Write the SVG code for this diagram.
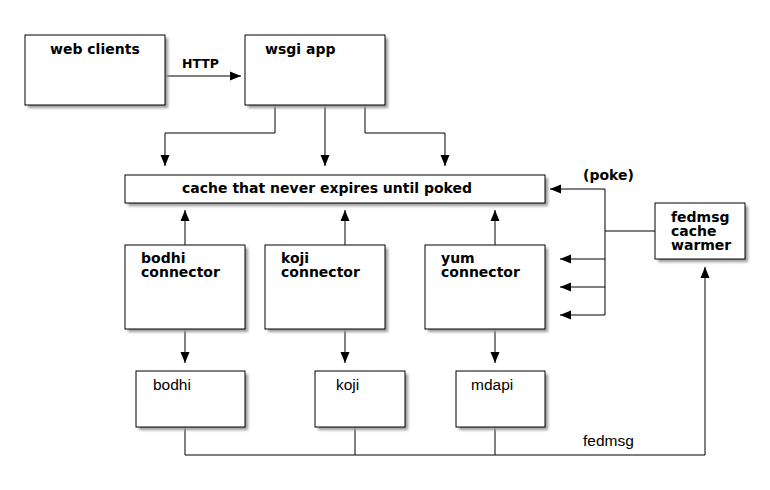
<svg xmlns="http://www.w3.org/2000/svg" width="770" height="490" viewBox="0 0 770 490">
<defs>
<marker id="ah" markerUnits="userSpaceOnUse" markerWidth="12" markerHeight="10" refX="11" refY="4.5" orient="auto" overflow="visible">
<path d="M0,0 L11,4.5 L0,9 z" fill="#000"/>
</marker>
<filter id="sh" x="-10%" y="-10%" width="130%" height="130%">
<feGaussianBlur stdDeviation="1.5"/>
</filter>
</defs>
<style>
.box{fill:#fff;stroke:#000;stroke-width:1}
.shadow{fill:#999;filter:url(#sh)}
.t{font-family:"DejaVu Sans",sans-serif;font-weight:bold;font-size:14px;fill:#000}
.b{font-family:"Liberation Sans",Arial,sans-serif;font-size:15.5px;fill:#000}
.lbl{font-family:"DejaVu Sans",sans-serif;font-weight:bold;font-size:12.5px;fill:#000}
.c{fill:none;stroke:#000;stroke-width:1}
.a{marker-end:url(#ah)}
</style>
<rect width="770" height="490" fill="#fff"/>

<g id="connectors">
<path class="c a" d="M165,76 H241"/>
<path class="c a" d="M275,105 V133 H165 V166"/>
<path class="c a" d="M325,105 V166"/>
<path class="c a" d="M365,105 V133 H445 V166"/>
<path class="c a" d="M185,245 V210"/>
<path class="c a" d="M345,245 V210"/>
<path class="c a" d="M495,245 V210"/>
<path class="c a" d="M185,329 V363"/>
<path class="c a" d="M345,329 V363"/>
<path class="c a" d="M495,329 V363"/>
<path class="c" d="M655,231 H605"/>
<path class="c a" d="M605,315 V189 H550"/>
<path class="c a" d="M605,259 H560"/>
<path class="c a" d="M605,287 H560"/>
<path class="c a" d="M605,315 H560"/>
<path class="c a" d="M185,427 V455 H705 V267"/>
<path class="c" d="M355,427 V455"/>
<path class="c" d="M495,427 V455"/>
<text class="lbl" x="182" y="68">HTTP</text>
<text class="t" x="583" y="180">(poke)</text>
<text class="b" x="583" y="446">fedmsg</text>
</g>

<g id="web-clients">
<rect class="shadow" x="28" y="38" width="140" height="70"/>
<rect class="box" x="25" y="35" width="140" height="70"/>
<text class="t" x="50" y="54">web clients</text>
</g>

<g id="wsgi-app">
<rect class="shadow" x="248" y="38" width="140" height="70"/>
<rect class="box" x="245" y="35" width="140" height="70"/>
<text class="t" x="265" y="54">wsgi app</text>
</g>

<g id="cache">
<rect class="shadow" x="128" y="178" width="420" height="28"/>
<rect class="box" x="125" y="175" width="420" height="28"/>
<text class="t" x="182" y="193">cache that never expires until poked</text>
</g>

<g id="fedmsg-cache-warmer">
<rect class="shadow" x="658" y="206" width="90" height="56"/>
<rect class="box" x="655" y="203" width="90" height="56"/>
<text class="t" x="671" y="222">fedmsg</text>
<text class="t" x="671" y="236">cache</text>
<text class="t" x="671" y="250">warmer</text>
</g>

<g id="bodhi-connector">
<rect class="shadow" x="128" y="248" width="120" height="84"/>
<rect class="box" x="125" y="245" width="120" height="84"/>
<text class="t" x="141" y="263">bodhi</text>
<text class="t" x="141" y="277">connector</text>
</g>

<g id="koji-connector">
<rect class="shadow" x="268" y="248" width="120" height="84"/>
<rect class="box" x="265" y="245" width="120" height="84"/>
<text class="t" x="281" y="263">koji</text>
<text class="t" x="281" y="277">connector</text>
</g>

<g id="yum-connector">
<rect class="shadow" x="428" y="248" width="120" height="84"/>
<rect class="box" x="425" y="245" width="120" height="84"/>
<text class="t" x="441" y="263">yum</text>
<text class="t" x="441" y="277">connector</text>
</g>

<g id="bodhi">
<rect class="shadow" x="139" y="374" width="109" height="56"/>
<rect class="box" x="136" y="371" width="109" height="56"/>
<text class="b" x="153" y="390">bodhi</text>
</g>

<g id="koji">
<rect class="shadow" x="318" y="374" width="90" height="56"/>
<rect class="box" x="315" y="371" width="90" height="56"/>
<text class="b" x="336" y="390">koji</text>
</g>

<g id="mdapi">
<rect class="shadow" x="459" y="374" width="89" height="56"/>
<rect class="box" x="456" y="371" width="89" height="56"/>
<text class="b" x="471" y="390">mdapi</text>
</g>
</svg>
